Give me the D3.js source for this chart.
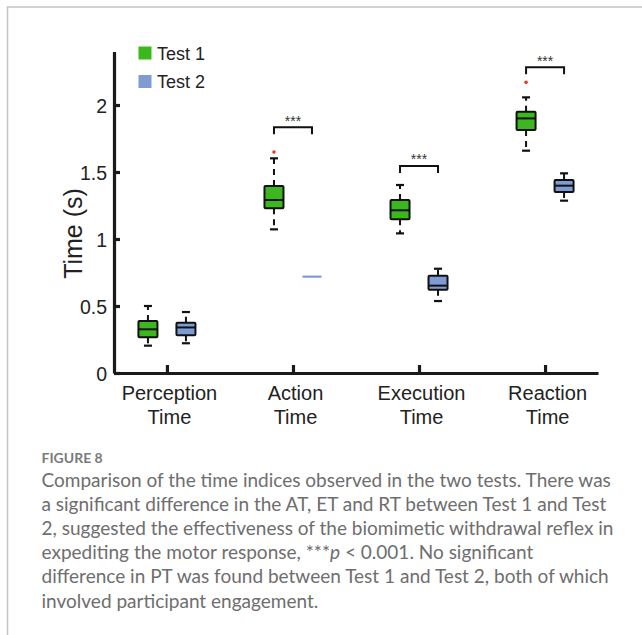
<!DOCTYPE html>
<html><head><meta charset="utf-8">
<script src="https://cdn.jsdelivr.net/npm/d3@7"></script>
<style>body{margin:0;background:#fff}</style>
</head><body>
<svg id="chart" width="642" height="635"></svg>
<script>
const categories = ["Perception Time", "Action Time", "Execution Time", "Reaction Time"];
const seriesNames = ["Test 1", "Test 2"];
const seriesColors = ["#3cb81f", "#7f9bd4"];
// Test 1 box statistics
const test1Low    = [0.204, 1.072, 1.042, 1.659];
const test1Q1     = [0.266, 1.229, 1.147, 1.813];
const test1Median = [0.326, 1.291, 1.214, 1.900];
const test1Q3     = [0.388, 1.396, 1.291, 1.950];
const test1High   = [0.500, 1.602, 1.403, 2.057];
const test1Outliers = [[], [1.649], [], [2.169]];
// Test 2 box statistics
const test2Low    = [0.222, 0.719, 0.537, 1.286];
const test2Q1     = [0.281, 0.719, 0.622, 1.351];
const test2Median = [0.340, 0.719, 0.652, 1.398];
const test2Q3     = [0.375, 0.719, 0.726, 1.440];
const test2High   = [0.455, 0.719, 0.778, 1.490];
const test2Outliers = [[], [], [], []];
// significance brackets (category, level in seconds)
const sigCategories = ["Action Time", "Execution Time", "Reaction Time"];
const sigLevels = [1.834, 1.545, 2.281];
const sigLabels = ["***", "***", "***"];
const yTicks = [0, 0.5, 1, 1.5, 2];
const yTickLabels = ["0", "0.5", "1", "1.5", "2"];
const captionTitle = "FIGURE 8";
const captionLines = [
  "Comparison of the time indices observed in the two tests. There was",
  "a significant difference in the AT, ET and RT between Test 1 and Test",
  "2, suggested the effectiveness of the biomimetic withdrawal reflex in",
  "expediting the motor response, ***|p| < 0.001. No significant",
  "difference in PT was found between Test 1 and Test 2, both of which",
  "involved participant engagement."
];

const svg = d3.select("#chart");
// frame
svg.append("path").attr("d","M7.5,635V7H642").attr("fill","none").attr("stroke","#c4c4c4").attr("stroke-width",1.5);

const y = d3.scaleLinear().domain([0, 2.4]).range([373, 51.4]);
const x = d3.scalePoint().domain(categories).range([114, 598]).padding(0.42);
const sub = d3.scalePoint().domain(seriesNames).range([-19, 19]);

const AX = "Liberation Sans, Arial, sans-serif";

// y axis
const yAxis = svg.append("g").attr("transform","translate(114,0)")
  .call(d3.axisLeft(y).tickValues(yTicks).tickFormat((d,i)=>yTickLabels[i]).tickSizeInner(-6).tickSizeOuter(0).tickPadding(12));
yAxis.select(".domain").attr("stroke","#1a1a1a").attr("stroke-width",3.2);
yAxis.selectAll(".tick line").attr("stroke","#1a1a1a").attr("stroke-width",3.2);
yAxis.selectAll(".tick text").attr("font-family",AX).attr("font-size",19.5).attr("fill","#222").attr("x",-7).attr("dy","0.36em");

// x axis
const xAxis = svg.append("g").attr("transform","translate(0,373)")
  .call(d3.axisBottom(x).tickSizeInner(-8).tickSizeOuter(0).tickFormat(""));
xAxis.select(".domain").attr("stroke","#1a1a1a").attr("stroke-width",3.2);
xAxis.selectAll(".tick line").attr("stroke","#1a1a1a").attr("stroke-width",3.2);
xAxis.selectAll(".tick text").remove();
xAxis.selectAll(".tick").append("text")
  .attr("font-family",AX).attr("font-size",20).attr("fill","#222").attr("text-anchor","middle")
  .each(function(d){
    const parts = d.split(" ");
    const t = d3.select(this);
    t.append("tspan").attr("x",2).attr("y",26.5).text(parts[0]);
    t.append("tspan").attr("x",2).attr("y",50.5).text(parts[1]);
  });

// y label
svg.append("text").attr("transform","translate(82,233.5) rotate(-90)")
  .attr("text-anchor","middle").attr("font-family",AX).attr("font-size",25).attr("fill","#222").text("Time (s)");

// boxes
const series = [
  {name:"Test 1", low:test1Low, q1:test1Q1, med:test1Median, q3:test1Q3, high:test1High, out:test1Outliers},
  {name:"Test 2", low:test2Low, q1:test2Q1, med:test2Median, q3:test2Q3, high:test2High, out:test2Outliers}
];
const boxW = 19, capW = 8;
series.forEach((s, si) => {
  categories.forEach((c, i) => {
    const cx = x(c) + sub(s.name);
    const g = svg.append("g");
    const col = seriesColors[si];
    if (s.q3[i] - s.q1[i] < 0.005) {
      g.append("line").attr("x1",cx-boxW/2).attr("x2",cx+boxW/2).attr("y1",y(s.med[i])).attr("y2",y(s.med[i]))
        .attr("stroke",col).attr("stroke-width",2.2);
      return;
    }
    // whiskers (dashed)
    g.append("line").attr("x1",cx).attr("x2",cx).attr("y1",y(s.q3[i])).attr("y2",y(s.high[i]))
      .attr("stroke","#111").attr("stroke-width",2).attr("stroke-dasharray","6,5");
    g.append("line").attr("x1",cx).attr("x2",cx).attr("y1",y(s.q1[i])).attr("y2",y(s.low[i]))
      .attr("stroke","#111").attr("stroke-width",2).attr("stroke-dasharray","6,5");
    [s.high[i], s.low[i]].forEach(v => {
      g.append("line").attr("x1",cx-capW/2).attr("x2",cx+capW/2).attr("y1",y(v)).attr("y2",y(v))
        .attr("stroke","#111").attr("stroke-width",2.2);
    });
    g.append("rect").attr("x",cx-boxW/2).attr("y",y(s.q3[i])).attr("width",boxW).attr("height",y(s.q1[i])-y(s.q3[i]))
      .attr("fill",col).attr("stroke","#111").attr("stroke-width",2).attr("rx",1);
    g.append("line").attr("x1",cx-boxW/2).attr("x2",cx+boxW/2).attr("y1",y(s.med[i])).attr("y2",y(s.med[i]))
      .attr("stroke","#111").attr("stroke-width",2);
    s.out[i].forEach(v => {
      g.append("circle").attr("cx",cx).attr("cy",y(v)).attr("r",1.8).attr("fill","#e8392b");
    });
  });
});

// significance brackets
sigCategories.forEach((c, i) => {
  const x1 = x(c) + sub("Test 1"), x2 = x(c) + sub("Test 2");
  const yy = y(sigLevels[i]);
  svg.append("path").attr("d",`M${x1},${yy+7}V${yy}H${x2}V${yy+7}`)
    .attr("fill","none").attr("stroke","#111").attr("stroke-width",2);
  svg.append("text").attr("x",(x1+x2)/2).attr("y",yy-1.5).attr("text-anchor","middle")
    .attr("font-family",AX).attr("font-size",14).attr("fill","#333").text(sigLabels[i]);
});

// legend
const leg = svg.append("g");
seriesNames.forEach((n, i) => {
  leg.append("rect").attr("x",138.5).attr("y",46.5 + i*28.5).attr("width",13).attr("height",13).attr("fill",seriesColors[i]);
  leg.append("text").attr("x",157).attr("y",59.5 + i*28.5).attr("font-family",AX).attr("font-size",18).attr("fill","#222").text(n);
});

// caption
const CF = "Lato, 'Open Sans', sans-serif";
svg.append("text").attr("x",41.5).attr("y",463).attr("font-family",CF).attr("font-weight",700)
  .attr("font-size",14).attr("fill","#7a7a7a").text(captionTitle);
const capTexts = [];
captionLines.forEach((line, i) => {
  const t = svg.append("text").attr("x",41.5).attr("y",486.5 + i*24.2).attr("font-family",CF)
    .attr("font-size",17).attr("fill","#6e6e6e");
  line.split("|").forEach((part, k) => {
    t.append("tspan").attr("font-style", k===1 ? "italic" : null).text(part);
  });
  capTexts.push(t);
});
// fit caption width to the reference measure (first line spans ~570px)
const w0 = capTexts[0].node().getComputedTextLength();
const fs = Math.min(19.5, 17 * 570 / w0);
capTexts.forEach(t => t.attr("font-size", fs));
</script>
</body></html>
